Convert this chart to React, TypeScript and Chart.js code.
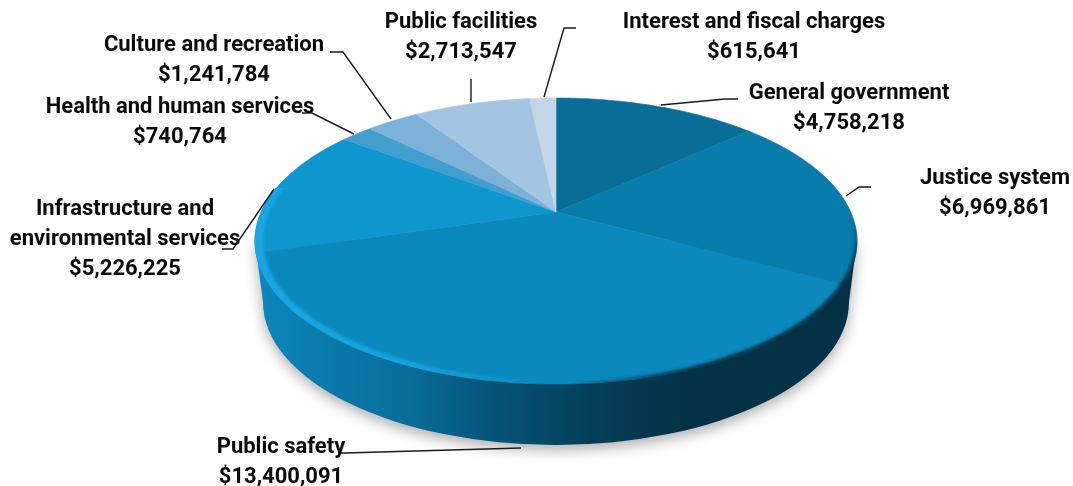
import React, { useEffect, useRef } from "react";
import { Chart, registerables } from "chart.js";

Chart.register(...registerables);

const categories = [
  "General government",
  "Justice system",
  "Public safety",
  "Infrastructure and environmental services",
  "Health and human services",
  "Culture and recreation",
  "Public facilities",
  "Interest and fiscal charges",
];
const amounts = [4758218, 6969861, 13400091, 5226225, 740764, 1241784, 2713547, 615641];
const sliceColors = ["#086e98", "#087cab", "#0b89bd", "#0e96ce", "#439ed0", "#7db1d8", "#a4c5e1", "#c3d6e8"];

const labelLines = [
  ["General government"],
  ["Justice system"],
  ["Public safety"],
  ["Infrastructure and", "environmental services"],
  ["Health and human services"],
  ["Culture and recreation"],
  ["Public facilities"],
  ["Interest and fiscal charges"],
];
const labelCenters = [
  [849, 93], [995, 178], [281, 447], [125, 209], [180, 107], [214, 45], [461, 22], [754, 22],
];
const leaderPaths = [
  [[661, 105], [725, 99], [738, 99]],
  [[846, 196], [859, 187], [871, 187]],
  [[521, 448], [345, 453], [338, 453]],
  [[274, 189], [233, 249], [222, 249]],
  [[354, 134], [312, 113], [302, 113]],
  [[391, 119], [343, 52], [330, 52]],
  [[471, 102], [471, 79], [471, 79]],
  [[544, 97], [564, 28], [576, 28]],
];

// Perspective of the disc: apex position, radii of the projected top face.
const APEX_X = 556;
const APEX_Y = 212;
const BACK_REACH = 114;
const FRONT_REACH = 172;
const HALF_WIDTH = 301;
const TILT = (FRONT_REACH - BACK_REACH) / (FRONT_REACH + BACK_REACH);
const DEPTH_GAIN = FRONT_REACH * (1 - TILT);
const WIDTH_GAIN = HALF_WIDTH * Math.sqrt(1 - TILT * TILT);
const TOP_CY = APEX_Y + (FRONT_REACH - BACK_REACH) / 2;
const TOP_RY = (FRONT_REACH + BACK_REACH) / 2;
const BASE_CY = 302;
const BASE_RX = 293;
const BASE_RY = 143;

const project = (angle: number): [number, number] => {
  const u = Math.cos(angle);
  const v = Math.sin(angle);
  const w = 1 - TILT * v;
  return [APEX_X + (WIDTH_GAIN * u) / w, APEX_Y + (DEPTH_GAIN * v) / w];
};

const drawWall = (ctx: CanvasRenderingContext2D) => {
  const wall = ctx.createLinearGradient(APEX_X - HALF_WIDTH, 0, APEX_X + HALF_WIDTH, 0);
  wall.addColorStop(0, "#0c86bc");
  wall.addColorStop(0.1, "#0a7cae");
  wall.addColorStop(0.25, "#086e9b");
  wall.addColorStop(0.36, "#065a80");
  wall.addColorStop(0.47, "#044a68");
  wall.addColorStop(0.6, "#043a53");
  wall.addColorStop(0.72, "#033247");
  wall.addColorStop(1, "#033247");

  ctx.save();
  ctx.shadowColor = "rgba(0,0,0,0.32)";
  ctx.shadowBlur = 14;
  ctx.shadowOffsetY = 5;
  ctx.fillStyle = wall;
  ctx.beginPath();
  ctx.moveTo(APEX_X - HALF_WIDTH, TOP_CY);
  ctx.lineTo(APEX_X - BASE_RX, BASE_CY);
  ctx.ellipse(APEX_X, BASE_CY, BASE_RX, BASE_RY, 0, Math.PI, 0, true);
  ctx.lineTo(APEX_X + HALF_WIDTH, TOP_CY);
  ctx.closePath();
  ctx.fill();
  ctx.restore();
};

const drawSlices = (ctx: CanvasRenderingContext2D, chart: Chart) => {
  const arcs = chart.getDatasetMeta(0).data as any[];
  arcs.forEach((arc, i) => {
    const { startAngle, endAngle } = arc.getProps(["startAngle", "endAngle"], true);
    ctx.beginPath();
    ctx.moveTo(APEX_X, APEX_Y);
    const steps = Math.max(4, Math.ceil((endAngle - startAngle) * 60));
    for (let s = 0; s <= steps; s++) {
      const [x, y] = project(startAngle + ((endAngle - startAngle) * s) / steps);
      ctx.lineTo(x, y);
    }
    ctx.closePath();
    ctx.fillStyle = sliceColors[i];
    ctx.strokeStyle = sliceColors[i];
    ctx.lineWidth = 0.6;
    ctx.fill();
    ctx.stroke();
  });
};

// One crescent of the bevel, kept inside the top face and below a cut-off line.
const rimCrescent = (
  ctx: CanvasRenderingContext2D,
  paint: CanvasGradient,
  fromY: number,
  insetX: number,
  insetY: number,
  blur: number,
) => {
  ctx.save();
  ctx.beginPath();
  ctx.ellipse(APEX_X, TOP_CY, HALF_WIDTH + 0.5, TOP_RY + 0.5, 0, 0, Math.PI * 2);
  ctx.clip();
  ctx.beginPath();
  ctx.rect(0, fromY, 1073, 486 - fromY);
  ctx.clip();
  ctx.filter = `blur(${blur}px)`;
  ctx.fillStyle = paint;
  ctx.beginPath();
  ctx.ellipse(APEX_X, TOP_CY, HALF_WIDTH + 4, TOP_RY + 4, 0, 0, Math.PI * 2);
  ctx.ellipse(APEX_X, TOP_CY - 0.5, HALF_WIDTH - insetX, TOP_RY - insetY, 0, 0, Math.PI * 2);
  ctx.fill("evenodd");
  ctx.restore();
};

// Soft bevel along the near rim: bright on the lit left side, dark on the right.
const drawBevel = (ctx: CanvasRenderingContext2D) => {
  const lit = ctx.createLinearGradient(APEX_X - HALF_WIDTH, 0, APEX_X + HALF_WIDTH, 0);
  lit.addColorStop(0, "rgba(24,166,226,1)");
  lit.addColorStop(0.28, "rgba(24,166,226,0.9)");
  lit.addColorStop(0.42, "rgba(24,166,226,0.3)");
  lit.addColorStop(0.5, "rgba(11,137,189,0)");
  lit.addColorStop(1, "rgba(11,137,189,0)");
  rimCrescent(ctx, lit, 188, 8, 3.5, 1.5);

  // The shade grows towards the lower right and fades out at both of its ends.
  const shade = ctx.createLinearGradient(314, 534, 340, 578);
  shade.addColorStop(0, "rgba(3,50,71,0)");
  shade.addColorStop(1, "rgba(3,50,71,1)");
  rimCrescent(ctx, shade, 200, 2.5, 1.5, 1.5);
};

const drawAnnotations = (ctx: CanvasRenderingContext2D) => {
  ctx.save();
  ctx.strokeStyle = "#1a1a1a";
  ctx.lineWidth = 1.4;
  leaderPaths.forEach((pts) => {
    ctx.beginPath();
    pts.forEach(([x, y], i) => (i ? ctx.lineTo(x, y) : ctx.moveTo(x, y)));
    ctx.stroke();
  });
  ctx.fillStyle = "#0a0a0a";
  ctx.font = "700 22px Roboto";
  ctx.textAlign = "center";
  ctx.textBaseline = "middle";
  categories.forEach((_, i) => {
    const [cx, cy] = labelCenters[i];
    const rows = [...labelLines[i], "$" + amounts[i].toLocaleString("en-US")];
    rows.forEach((row, r) => ctx.fillText(row, cx, cy + r * 30));
  });
  ctx.restore();
};

const perspectivePie = {
  id: "perspectivePie",
  beforeDatasetsDraw(chart: Chart) {
    const ctx = chart.ctx;
    drawWall(ctx);
    drawSlices(ctx, chart);
    drawBevel(ctx);
    return false;
  },
  afterDraw(chart: Chart) {
    drawAnnotations(chart.ctx);
  },
};

export default function App() {
  const ref = useRef<HTMLCanvasElement>(null);
  useEffect(() => {
    if (!ref.current) return;
    const chart = new Chart(ref.current, {
      type: "pie",
      data: {
        labels: categories,
        datasets: [{ data: amounts, backgroundColor: sliceColors, borderWidth: 0 }],
      },
      options: {
        responsive: false,
        animation: false,
        plugins: { legend: { display: false }, tooltip: { enabled: false } },
      },
      plugins: [perspectivePie],
    });
    return () => chart.destroy();
  }, []);
  return (
    <div style={{ position: "absolute", left: 0, top: 0, width: 1073, height: 486, background: "#fff" }}>
      <canvas ref={ref} width={1073} height={486} style={{ display: "block" }} />
    </div>
  );
}
